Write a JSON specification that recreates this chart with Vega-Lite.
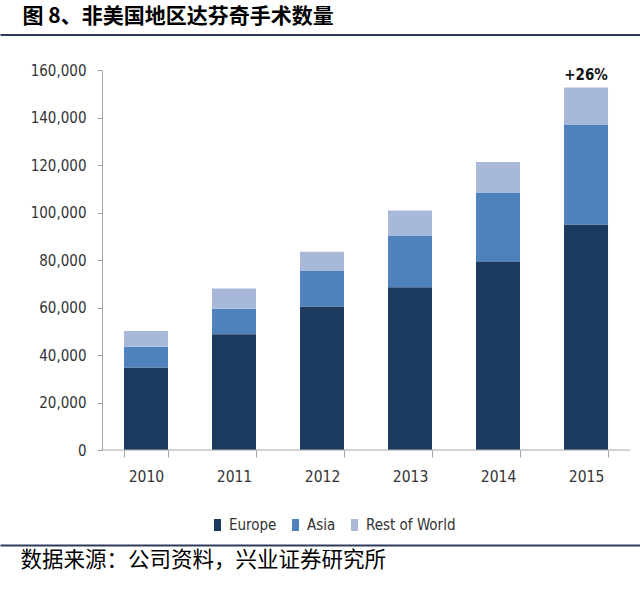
{
  "$schema": "https://vega.github.io/schema/vega-lite/v6.json",
  "width": 640,
  "height": 380,
  "autosize": {"type": "none"},
  "padding": {"left": 0, "top": 70, "right": 0, "bottom": 164},
  "background": "white",
  "config": {"view": {"stroke": null}, "font": "DejaVu Sans Condensed, Liberation Sans, sans-serif"},
  "datasets": {
    "surgeries": [
      {"year": "2010", "region": "Europe", "count": 34700},
      {"year": "2010", "region": "Asia", "count": 8800},
      {"year": "2010", "region": "Rest of World", "count": 6600},
      {"year": "2011", "region": "Europe", "count": 48700},
      {"year": "2011", "region": "Asia", "count": 10800},
      {"year": "2011", "region": "Rest of World", "count": 8500},
      {"year": "2012", "region": "Europe", "count": 60400},
      {"year": "2012", "region": "Asia", "count": 15000},
      {"year": "2012", "region": "Rest of World", "count": 8100},
      {"year": "2013", "region": "Europe", "count": 68500},
      {"year": "2013", "region": "Asia", "count": 21600},
      {"year": "2013", "region": "Rest of World", "count": 10700},
      {"year": "2014", "region": "Europe", "count": 79200},
      {"year": "2014", "region": "Asia", "count": 29200},
      {"year": "2014", "region": "Rest of World", "count": 12900},
      {"year": "2015", "region": "Europe", "count": 95000},
      {"year": "2015", "region": "Asia", "count": 41800},
      {"year": "2015", "region": "Rest of World", "count": 15800}
    ],
    "growth": [{"year": "2015", "total": 152600, "label": "+26%"}],
    "baseline": [{"from": "2010", "to": "2015", "level": 0}]
  },
  "resolve": {"axis": {"x": "independent", "y": "independent"}},
  "layer": [
    {
      "data": {"name": "surgeries"},
      "transform": [{"calculate": "indexof(['Europe','Asia','Rest of World'], datum.region)", "as": "stackOrder"}],
      "mark": {"type": "bar"},
      "encoding": {
        "x": {
          "field": "year", "type": "nominal",
          "scale": {"paddingInner": 0.5, "paddingOuter": 0.886, "align": 0.795},
          "axis": {"orient": "bottom", "title": null, "labelAngle": 0, "domain": false, "tickColor": "#A6A6A6", "tickBand": "extent", "tickSize": 7, "labelPadding": 12, "labelFontSize": 15.5, "labelColor": "#333333", "labelFont": "DejaVu Sans Condensed, Liberation Sans, sans-serif"}
        },
        "y": {
          "field": "count", "type": "quantitative",
          "scale": {"domain": [0, 160000], "nice": false},
          "axis": {"title": null, "offset": -102, "format": ",d", "values": [0, 20000, 40000, 60000, 80000, 100000, 120000, 140000, 160000], "grid": false, "domainColor": "#A6A6A6", "tickColor": "#A6A6A6", "tickSize": 5, "labelPadding": 11, "labelFontSize": 15, "labelColor": "#333333", "labelFont": "DejaVu Sans Condensed, Liberation Sans, sans-serif"}
        },
        "color": {
          "field": "region", "type": "nominal",
          "scale": {"domain": ["Europe", "Asia", "Rest of World"], "range": ["#1C3A5E", "#4F81BD", "#A7B8D9"]},
          "legend": {"orient": "none", "legendX": 210, "legendY": 447.5, "direction": "horizontal", "gridAlign": "none", "title": null, "symbolType": "M-0.58,-1H0.58V1H-0.58Z", "symbolSize": 144, "symbolStrokeWidth": 0, "labelFontSize": 15, "labelOffset": 4, "columnPadding": 11, "labelColor": "#333333", "labelFont": "DejaVu Sans Condensed, Liberation Sans, sans-serif", "padding": 0}
        },
        "order": {"field": "stackOrder", "type": "quantitative"}
      }
    },
    {
      "data": {"name": "baseline"},
      "mark": {"type": "rule", "color": "#A6A6A6", "strokeWidth": 1},
      "encoding": {
        "x": {"field": "from", "type": "nominal", "bandPosition": -0.5, "axis": null},
        "x2": {"field": "to", "bandPosition": 1.5},
        "y": {"field": "level", "type": "quantitative", "axis": null}
      }
    },
    {
      "data": {"name": "growth"},
      "mark": {"type": "text", "fontWeight": "bold", "fontSize": 15, "dy": -8, "baseline": "alphabetic", "color": "#111111", "font": "DejaVu Sans Condensed, Liberation Sans, sans-serif"},
      "encoding": {
        "x": {
          "field": "year", "type": "nominal",
          "axis": {"orient": "top", "offset": 35.5, "labels": false, "ticks": false, "domainColor": "#2F3B5A", "domainWidth": 2, "title": "图 8、非美国地区达芬奇手术数量", "titleFont": "Noto Sans CJK SC", "titleFontSize": 21, "titleFontWeight": "bold", "titleColor": "#000000", "titleX": 22, "titleY": -18.5, "titleAlign": "left", "titleBaseline": "middle", "titleAngle": 0}
        },
        "y": {"field": "total", "type": "quantitative", "axis": null},
        "text": {"field": "label"}
      }
    },
    {
      "data": {"name": "growth"},
      "mark": {"type": "text", "opacity": 0},
      "encoding": {
        "x": {
          "field": "year", "type": "nominal",
          "axis": {"orient": "bottom", "offset": 95, "labels": false, "ticks": false, "domainColor": "#2F3B5A", "domainWidth": 2, "title": "数据来源：公司资料，兴业证券研究所", "titleFont": "Noto Sans CJK SC", "titleFontSize": 21.5, "titleFontWeight": "normal", "titleColor": "#000000", "titleX": 20, "titleY": 15, "titleAlign": "left", "titleBaseline": "middle", "titleAngle": 0}
        },
        "y": {"field": "total", "type": "quantitative", "axis": null},
        "text": {"field": "label"}
      }
    }
  ]
}
